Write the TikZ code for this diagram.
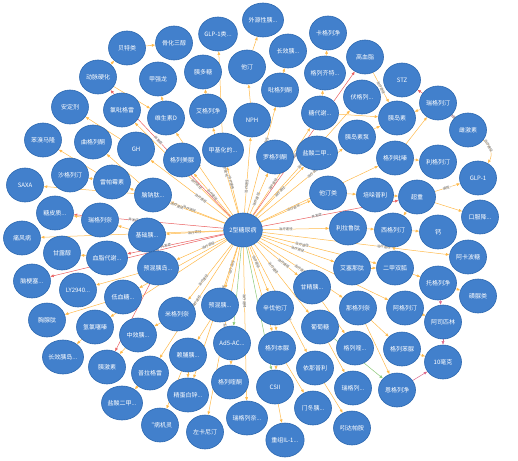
\documentclass[tikz,border=0pt]{standalone}
\usepackage{fontspec}
\newfontfamily\cjk{Noto Sans CJK SC}
\usetikzlibrary{arrows.meta,shapes.geometric,backgrounds}
\definecolor{nodeblue}{RGB}{66,128,204}
\definecolor{nodeline}{RGB}{44,104,176}
\definecolor{treatc}{RGB}{255,186,76}
\definecolor{riskc}{RGB}{234,96,96}
\definecolor{greenc}{RGB}{140,200,120}
\definecolor{pinkc}{RGB}{220,105,140}
\tikzset{
  ent/.style={ellipse,fill=nodeblue,draw=nodeline,line width=0.6pt,minimum width=37pt,minimum height=34pt,inner sep=0pt,text=white,font=\cjk\fontsize{6}{6}\selectfont},
  rel/.style={-{Latex[length=3.5pt,width=3pt]},line width=0.5pt},
  treat/.style={rel,draw=treatc},
  risk/.style={rel,draw=riskc},
  grn/.style={rel,draw=greenc},
  pnk/.style={rel,draw=pinkc},
  elab/.style={sloped,font=\cjk\fontsize{3.4}{4}\selectfont,text=black!65,fill=white,fill opacity=0.6,text opacity=1,inner sep=0.2pt},
}

\begin{document}
\begin{tikzpicture}[x=1pt,y=-1pt]
\useasboundingbox (0,0) rectangle (518,460);

% centre
\node[ent] (dm) at (243,230) {2型糖尿病};

% top
\node[ent] (btl)  at (127,48)  {贝特类};
\node[ent] (ghsc) at (174,43)  {骨化三醇};
\node[ent] (glpl) at (218,34)  {GLP-1类...};
\node[ent] (wyx)  at (263,20)  {外源性胰...};
\node[ent] (kglj) at (328,33)  {卡格列净};
\node[ent] (cxy)  at (288,51)  {长效胰...};
\node[ent] (gxz)  at (365,57)  {高血脂};
\node[ent] (glqt) at (325,73)  {格列齐特...};
\node[ent] (stz)  at (402,80)  {STZ};
\node[ent] (dmyh) at (98,77)   {动脉硬化};
\node[ent] (jql)  at (158,79)  {甲强龙};
\node[ent] (ydt)  at (203,72)  {胰多糖};
\node[ent] (tt)   at (247,67)  {他汀};
\node[ent] (bglt) at (280,90)  {吡格列酮};
\node[ent] (fgl)  at (362,97)  {伏格列...};
\node[ent] (rglt) at (438,103) {瑞格列汀};
\node[ent] (adj)  at (70,107)  {安定剂};
\node[ent] (lbgl) at (122,110) {氯吡格雷};
\node[ent] (wssd) at (166,118) {维生素D};
\node[ent] (aglj) at (208,111) {艾格列净};
\node[ent] (nph)  at (252,120) {NPH};
\node[ent] (tdx)  at (320,113) {糖代谢...};
\node[ent] (yds)  at (397,118) {胰岛素};
\node[ent] (cjs)  at (468,130) {雌激素};
\node[ent] (ydsb) at (357,137) {胰岛素泵};

% middle
\node[ent] (bxml) at (43,140)  {苯溴马隆};
\node[ent] (qglt) at (93,142)  {曲格列酮};
\node[ent] (gh)   at (136,149) {GH};
\node[ent] (glmn) at (182,160) {格列美脲};
\node[ent] (jjh)  at (223,150) {甲基化的...};
\node[ent] (lglt) at (275,157) {罗格列酮};
\node[ent] (yse)  at (317,153) {盐酸二甲...};
\node[ent] (glbq) at (395,158) {格列吡嗪};
\node[ent] (liglt) at (438,162) {利格列汀};
\node[ent] (glp)  at (478,178) {GLP-1};
\node[ent] (sglt) at (70,175)  {沙格列汀};
\node[ent] (lpms) at (112,182) {雷帕霉素};
\node[ent] (saxa) at (25,185)  {SAXA};
\node[ent] (nnt)  at (153,195) {脑钠肽...};
\node[ent] (ttl)  at (328,193) {他汀类};
\node[ent] (pdpl) at (375,195) {培哚普利};
\node[ent] (cz)   at (417,197) {超重};
\node[ent] (tpz)  at (55,213)  {糖皮质...};
\node[ent] (rgln) at (100,220) {瑞格列奈};
\node[ent] (kfj)  at (480,217) {口服降...};
\node[ent] (jcy)  at (147,235) {基础胰...};
\node[ent] (llt)  at (348,228) {利拉鲁肽};
\node[ent] (xglt) at (393,230) {西格列汀};
\node[ent] (gai)  at (438,232) {钙};
\node[ent] (tfb)  at (22,238)  {痛风病};
\node[ent] (glc)  at (62,253)  {甘露醇};
\node[ent] (xzdx) at (107,258) {血脂代谢...};
\node[ent] (akbt) at (468,257) {阿卡波糖};
\node[ent] (yhyd) at (158,268) {预混胰岛...};
\node[ent] (asnt) at (352,268) {艾塞那肽};
\node[ent] (ejsg) at (395,268) {二甲双胍};
\node[ent] (ngs)  at (32,281)  {脑梗塞...};
\node[ent] (tglj) at (438,283) {托格列净};
\node[ent] (ly)   at (78,290)  {LY2940...};
\node[ent] (gjy)  at (312,287) {甘精胰...};
\node[ent] (dxt)  at (123,297) {低血糖...};
\node[ent] (hnl)  at (478,296) {磺脲类};

% bottom
\node[ent] (yhy)  at (220,305) {预混胰...};
\node[ent] (mgln) at (177,314) {米格列奈};
\node[ent] (xftt) at (275,308) {辛伐他汀};
\node[ent] (ngln) at (358,308) {那格列奈};
\node[ent] (aglt) at (405,308) {阿格列汀};
\node[ent] (xxt)  at (47,320)  {胸腺肽};
\node[ent] (qlsq) at (95,327)  {氢氯噻嗪};
\node[ent] (ptt)  at (320,327) {葡萄糖};
\node[ent] (aspl) at (443,322) {阿司匹林};
\node[ent] (zxy)  at (138,335) {中效胰...};
\node[ent] (ad)   at (232,343) {Ad5-AC...};
\node[ent] (glbn) at (277,348) {格列本脲};
\node[ent] (glk)  at (355,348) {格列喹...};
\node[ent] (glbenn) at (402,349) {格列苯脲};
\node[ent] (lfy)  at (188,355) {赖脯胰...};
\node[ent] (cxyd) at (63,357)  {长效胰岛...};
\node[ent] (mg)   at (443,362) {10毫克};
\node[ent] (yjs)  at (107,367) {胰激素};
\node[ent] (ynpl) at (315,368) {依那普利};
\node[ent] (plgl) at (150,373) {普拉格雷};
\node[ent] (glkt) at (230,382) {格列喹酮};
\node[ent] (csii) at (275,387) {CSII};
\node[ent] (rgl)  at (353,388) {瑞格列...};
\node[ent] (eglj) at (397,390) {恩格列净};
\node[ent] (jdbx) at (188,395) {精蛋白锌...};
\node[ent] (yseb) at (122,403) {盐酸二甲...};
\node[ent] (mdy)  at (313,408) {门冬胰...};
\node[ent] (rglnb) at (247,418) {瑞格列奈...};
\node[ent] (tbjl) at (160,425) {“病机灵};
\node[ent] (zknt) at (205,432) {左卡尼汀};
\node[ent] (ydpa) at (352,428) {吲达帕胺};
\node[ent] (il)   at (285,440) {重组IL-1...};

\begin{scope}[on background layer]
% edges from the centre
\foreach \t [count=\i] in {glmn,jjh,lglt,yse,ttl,llt,asnt,gjy,xftt,yhy,mgln,yhyd,jcy,nnt,nph,aglj,wssd,gh,lpms,dxt,ptt,ngln,aglt,ejsg,glbq,ydsb,tdx,fgl,bglt,lbgl,plgl,ynpl,rglnb,zknt,akbt,tfb,qlsq,glbn,jdbx}
  \draw[treat] (dm) -- node[elab,pos={0.35+0.15*mod(\i,3)}] {治疗途径} (\t);
\foreach \t [count=\i] in {dmyh,gxz,xzdx,ngs,tpz,cz}
  \draw[risk] (dm) -- node[elab,pos={0.4+0.2*mod(\i,2)}] {并发症} (\t);
\foreach \t in {ad,csii}
  \draw[grn] (dm) -- (\t);

% edges between the others
\foreach \s/\t in {dmyh/btl,btl/ghsc,jjh/glpl,tt/wyx,glqt/kglj,bglt/cxy,tdx/glqt,rglt/yds,nph/tt,aglj/ydt,wssd/jql,dmyh/wssd,gh/adj,lpms/bxml,lpms/sglt,nnt/saxa,nnt/qglt,rgln/tpz,jcy/rgln,xzdx/glc,yhyd/ly,dxt/xxt,mgln/zxy,qlsq/cxyd,zxy/yjs,plgl/yseb,lfy/jdbx,lfy/tbjl,ad/glkt,glbn/csii,csii/il,glbn/mdy,ynpl/ydpa,ptt/rgl,gjy/glk,ngln/glbenn,ngln/eglj,glbenn/mg,aglt/aspl,tglj/hnl,ejsg/tglj,asnt/ejsg,cz/xglt,cz/kfj,glbq/liglt,ttl/pdpl,pdpl/cz,llt/xglt,xglt/ejsg,tdx/yds,ydsb/yds,glbq/rglt,xglt/gai,xftt/glbn,yhy/lfy}
  \draw[treat] (\s) -- (\t);
\draw[treat] (gxz) -- node[elab] {治疗途径} (yds);
\draw[treat] (cz) -- node[elab] {调控...} (glp);
\draw[treat] (cjs) to[bend left=45] node[elab,pos=0.3] {治疗途径} (glp);
\draw[risk] (rglt) -- (stz);
\draw[risk] (yhyd) -- (yjs);
\draw[pnk] (rglt) -- node[elab] {治疗途径} (cjs);
\draw[pnk] (eglj) -- (mg);
\draw[pnk] (aspl) -- (mg);
\draw[pnk] (tglj) -- (aspl);
\draw[grn] (ptt) -- (eglj);
\end{scope}
\end{tikzpicture}
\end{document}
